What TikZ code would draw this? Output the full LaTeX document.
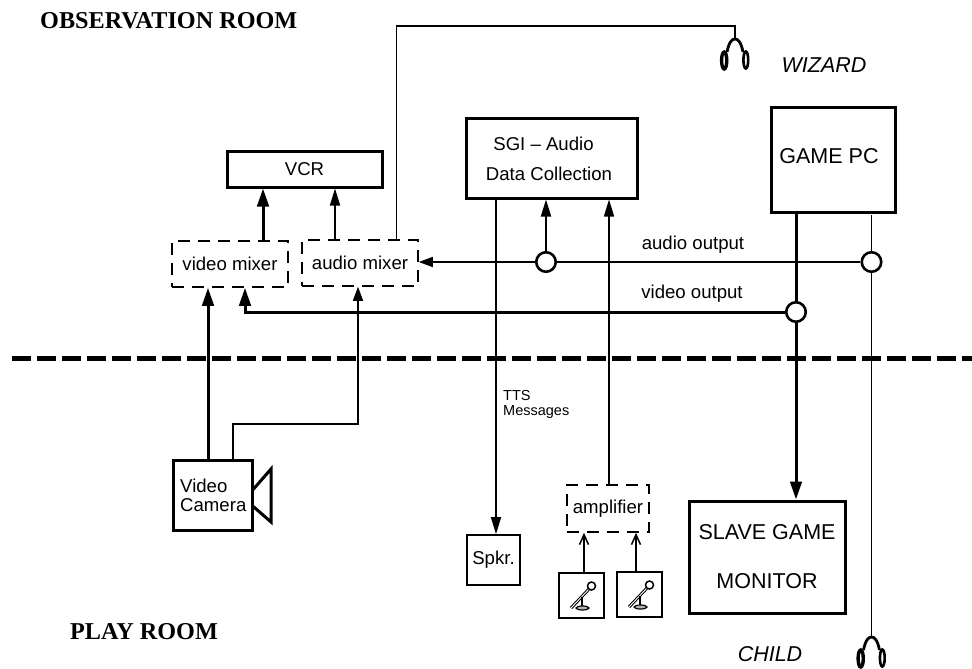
\documentclass[tikz,border=0pt]{standalone}
\usepackage{fontspec}
\setmainfont{Liberation Sans}
\newfontfamily\titlefont{Liberation Serif}
\usetikzlibrary{arrows.meta,shapes.geometric}
\tikzset{
  solidbox/.style={draw, line width=3pt, inner sep=0pt},
  thinbox/.style={draw, line width=1.6pt, inner sep=0pt},
  dashbox/.style={draw, line width=1.6pt, inner sep=0pt, dash pattern=on 12pt off 8pt},
  junction/.style={draw, circle, fill=white, line width=2.6pt, minimum size=19.5pt, inner sep=0pt},
  txt/.style={inner sep=0pt, font=\fontsize{18.6}{22}\selectfont},
  bigtxt/.style={inner sep=0pt, font=\fontsize{21.5}{49}\selectfont},
  roomtxt/.style={inner sep=0pt, font=\titlefont\bfseries\fontsize{24.2}{28}\selectfont},
  thinline/.style={line width=1.5pt},
  thickline/.style={line width=3pt},
  thinarrow/.style={line width=1.5pt, -{Triangle[length=17pt,width=10pt]}},
  thickarrow/.style={line width=3pt, -{Triangle[length=18pt,width=11.5pt]}},
  openarrow/.style={line width=1.5pt, -{Straight Barb[length=10pt,width=9pt]}},
  phones/.pic={
    \draw[line width=2.8pt] (-8,13) .. controls (-6,3) and (-3,0) .. (0,0) .. controls (3,0) and (6,3) .. (8,13);
    \draw[line width=3.4pt] (-10.8,21.5) ellipse (2.6 and 8.5);
    \draw[line width=2.6pt] (10.8,21) ellipse (2.4 and 8.5);
  },
  micicon/.pic={
    \draw[line width=3pt] (-10.5,12.5) -- (8,-7);
    \draw[white, line width=0.9pt] (-10.5,12.5) -- (8,-7);
    \draw[line width=1.5pt, fill=white] (10,-9.5) circle (4);
    \draw[line width=2pt] (0,1.5) -- (0,12);
    \draw[line width=1.2pt, fill=gray!60] (1,12.5) ellipse (6.5 and 2);
  }
}

\begin{document}
\begin{tikzpicture}[x=1pt,y=-1pt]
\useasboundingbox (0,0) rectangle (972,669);
\node[roomtxt, anchor=west] (obsroom) at (40,21) {OBSERVATION ROOM};
\node[roomtxt, anchor=west] (playroom) at (70,632) {PLAY ROOM};
\node[bigtxt, font=\itshape\fontsize{21.5}{24}\selectfont] (wizard) at (824,65) {WIZARD};
\node[bigtxt, font=\itshape\fontsize{21.5}{24}\selectfont] (child) at (770,654) {CHILD};

\node[solidbox, minimum width=155pt, minimum height=36pt, txt] (vcr) at (304.5,169) {VCR};
\node[dashbox, minimum width=116pt, minimum height=46pt, txt] (videomix) at (230,264) {video mixer};
\node[dashbox, minimum width=116pt, minimum height=46pt, txt] (audiomix) at (360,263) {audio mixer};
\node[solidbox, minimum width=171pt, minimum height=80pt] (sgi) at (551.5,158) {};
\node[txt] (sgitop) at (543.5,144) {SGI -- Audio};
\node[txt] (sgibot) at (549,174) {Data Collection};
\node[solidbox, minimum width=124pt, minimum height=105pt] (gamepc) at (833,159.5) {};
\node[bigtxt] (gamelabel) at (829,156) {GAME PC};
\node[solidbox, minimum width=156pt, minimum height=112pt, bigtxt, align=center] (slave) at (767,557) {SLAVE GAME\\MONITOR};
\node[solidbox, minimum width=79pt, minimum height=70pt] (camera) at (212.5,495) {};
\node[txt, anchor=west, align=left, font=\fontsize{18.6}{19}\selectfont] (camlabel) at (180,495) {Video\\Camera};
\node[thinbox, minimum width=53pt, minimum height=50pt, txt] (spkr) at (493.5,560) {Spkr.};
\node[dashbox, minimum width=82pt, minimum height=47pt, txt] (amp) at (608,508.5) {amplifier};
\node[thinbox, minimum width=45pt, minimum height=45pt] (micone) at (581.5,595.5) {};
\node[thinbox, minimum width=45pt, minimum height=45pt] (mictwo) at (639.5,594.5) {};
\pic at (micone) {micicon};
\pic at (mictwo) {micicon};

\node[junction] (audiotap) at (546,262) {};
\node[junction] (audiojoin) at (871.5,262) {};
\node[junction] (videojoin) at (796,312) {};
\node[txt] (audiolabel) at (693,245) {audio output};
\node[txt] (videolabel) at (692,294) {video output};
\node[inner sep=0pt, font=\fontsize{14.5}{15}\selectfont, anchor=west, align=left] (ttslabel) at (503,404) {TTS\\Messages};

\coordinate (wizphones) at (735,39);
\coordinate (childphones) at (871.5,637);
\coordinate (wirestart) at (871.5,215);
\pic at (wizphones) {phones};
\pic at (childphones) {phones};

\draw[line width=5pt, dash pattern=on 19pt off 6pt] (12,358.7) -- (972,358.7);

\draw[thickarrow] (263,0 |- videomix.north) -- (263,0 |- vcr.south);
\draw[thinarrow] (335,0 |- audiomix.north) -- (335,0 |- vcr.south);
\draw[thinline] (396.5,0 |- audiomix.north) -- (396.5,26) -| (wizphones);
\draw[thinline] (audiojoin.west) -- (audiotap.east);
\draw[line width=1.5pt, -{Triangle[length=14pt,width=10pt]}] (audiotap.west) -- (audiotap -| audiomix.east);
\draw[line width=2pt, -{Triangle[length=17pt,width=10pt]}] (audiotap.north) -- (audiotap |- sgi.south);
\draw[thickline] (videojoin |- gamepc.south) -- (videojoin.north);
\draw[thickarrow] (videojoin.south) -- (videojoin |- slave.north);
\draw[thickarrow] (videojoin.west) -| (245,0 |- videomix.south);
\draw[thinline] (wirestart) -- (audiojoin.north);
\draw[thinline] (audiojoin.south) -- (childphones);
\draw[thickarrow] (208,0 |- camera.north) -- (208,0 |- videomix.south);
\draw[thinarrow, -{Triangle[length=14pt,width=10pt]}] (233,0 |- camera.north) -- (233,424) -| (358,0 |- audiomix.south);
\draw[thinarrow] (496,0 |- sgi.south) -- (496,0 |- spkr.north);
\draw[thinarrow] (609,0 |- amp.north) -- (609,0 |- sgi.south);
\draw[openarrow] (584,0 |- micone.north) -- (584,0 |- amp.south);
\draw[openarrow] (636,0 |- mictwo.north) -- (636,0 |- amp.south);
\draw[line width=3pt, line join=miter] (252.7,490) -- (271,469) -- (271,522) -- (252.7,506);
\end{tikzpicture}
\end{document}
